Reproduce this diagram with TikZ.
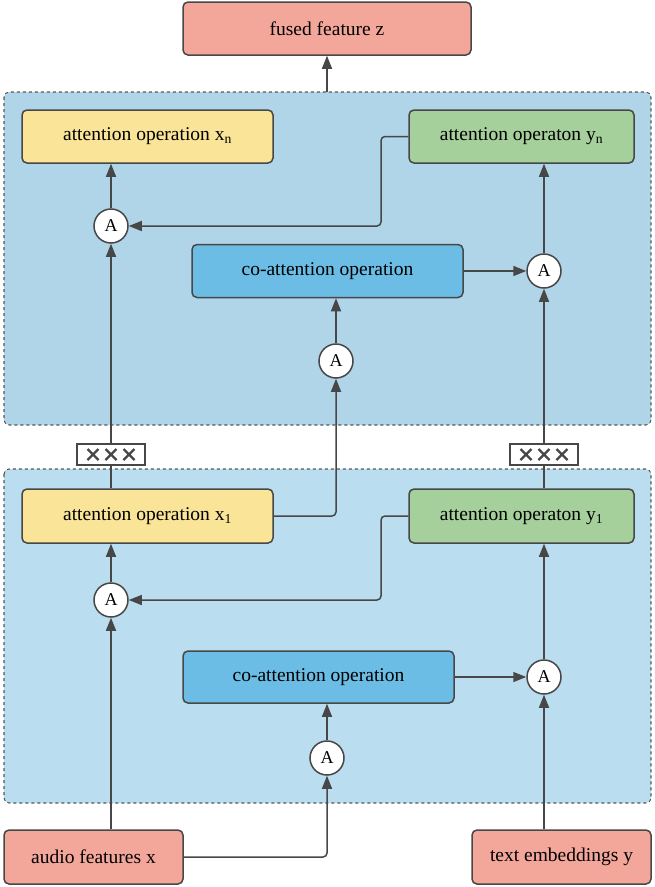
\documentclass[tikz,border=0pt]{standalone}
\usepackage{fontspec}
\setmainfont{Liberation Serif}
\usetikzlibrary{arrows.meta,positioning,backgrounds}
\definecolor{linegray}{HTML}{474747}
\definecolor{salmon}{HTML}{F3A69A}
\definecolor{opyellow}{HTML}{F9E497}
\definecolor{opgreen}{HTML}{A5D09B}
\definecolor{opblue}{HTML}{6BBDE5}
\definecolor{paneltop}{HTML}{B0D4E8}
\definecolor{panelbot}{HTML}{BADEF0}
\tikzset{
  opbox/.style={draw=linegray, line width=1.5pt, rounded corners=5pt, font=\fontsize{19.5}{22}\selectfont, inner sep=0pt},
  anode/.style={draw=linegray, line width=1.5pt, circle, fill=white, minimum size=34pt, inner sep=0pt, font=\fontsize{18}{20}\selectfont},
  panel/.style={draw=linegray, dashed, line width=0.6pt, rounded corners=5pt},
  link/.style={draw=linegray, line width=1.5pt, rounded corners=4pt, -{Triangle[length=13pt,width=10pt]}},
  plain/.style={draw=linegray, line width=1.5pt, rounded corners=4pt},
  repbox/.style={draw=linegray, line width=1.5pt, fill=white, minimum width=68pt, minimum height=21pt, inner sep=0pt}
}
\begin{document}
\begin{tikzpicture}[x=1pt, y=-1pt]
  \useasboundingbox (0,0) rectangle (655,887);
  \fill[panel, fill=paneltop] (4,92) rectangle (651,425);
  \fill[panel, fill=panelbot] (4,469) rectangle (651,803);
  \draw[panel] (4,92) rectangle (651,425);
  \draw[panel] (4,469) rectangle (651,803);
  \coordinate (topin) at (327,92);

  \node[opbox, fill=salmon, minimum width=288pt, minimum height=53pt] (fused) at (327,28.5) {fused feature z};
  \node[opbox, fill=opyellow, minimum width=251pt, minimum height=53pt] (xn) at (147.5,136.5) {attention operation x\textsubscript{n}};
  \node[opbox, fill=opgreen, minimum width=225pt, minimum height=53pt] (yn) at (521.5,136.5) {attention operaton y\textsubscript{n}};
  \node[anode] (axn) at (111,226) {A};
  \node[opbox, fill=opblue, minimum width=271pt, minimum height=53pt] (cotop) at (327.5,271) {co-attention operation};
  \node[anode] (ayn) at (544,271) {A};
  \node[anode] (actop) at (336,361) {A};

  \node[opbox, fill=opyellow, minimum width=251pt, minimum height=54pt] (x1) at (147.5,516) {attention operation x\textsubscript{1}};
  \node[opbox, fill=opgreen, minimum width=225pt, minimum height=54pt] (y1) at (521.5,516) {attention operaton y\textsubscript{1}};
  \node[anode] (ax1) at (111,600) {A};
  \node[opbox, fill=opblue, minimum width=271pt, minimum height=52pt] (cobot) at (318.5,677) {co-attention operation};
  \node[anode] (ay1) at (544,677) {A};
  \node[anode] (acbot) at (327,758) {A};

  \node[opbox, fill=salmon, minimum width=179pt, minimum height=54pt] (audio) at (93.5,857) {audio features x};
  \node[opbox, fill=salmon, minimum width=179pt, minimum height=54pt] (text) at (561.5,857) {text embeddings y};

  \node[repbox] (repx) at (111,454.5) {};
  \node[repbox] (repy) at (544,454.5) {};
  \foreach \r in {repx,repy}
    \foreach \d in {-18,0,18}
      \draw[linegray, line width=2.2pt] ([xshift=\d pt]\r.center) +(-5.5,-5.5) -- +(5.5,5.5) +(-5.5,5.5) -- +(5.5,-5.5);

  \draw[link] (audio.north -| ax1) -- (ax1);
  \draw[link] (audio.east) -| (acbot);
  \draw[link] (acbot) -- (acbot |- cobot.south);
  \draw[link] (cobot.east) -- (ay1);
  \draw[link] (text.north -| ay1) -- (ay1);
  \draw[link] (ay1) -- (ay1 |- y1.south);
  \draw[link] (y1.west) -- (381,516) |- (ax1);
  \draw[link] (ax1) -- (ax1 |- x1.south);
  \draw[link] (x1.east) -| (actop);
  \draw[link] (actop) -- (actop |- cotop.south);
  \draw[link] (cotop.east) -- (ayn);
  \draw[plain] (x1.north -| repx) -- (repx);
  \draw[link] (repx) -- (axn);
  \draw[plain] (y1.north -| repy) -- (repy);
  \draw[link] (repy) -- (ayn);
  \draw[link] (ayn) -- (ayn |- yn.south);
  \draw[link] (yn.west) -- (381,136.5) |- (axn);
  \draw[link] (axn) -- (axn |- xn.south);
  \draw[link] (topin) -- (fused);
\end{tikzpicture}
\end{document}
